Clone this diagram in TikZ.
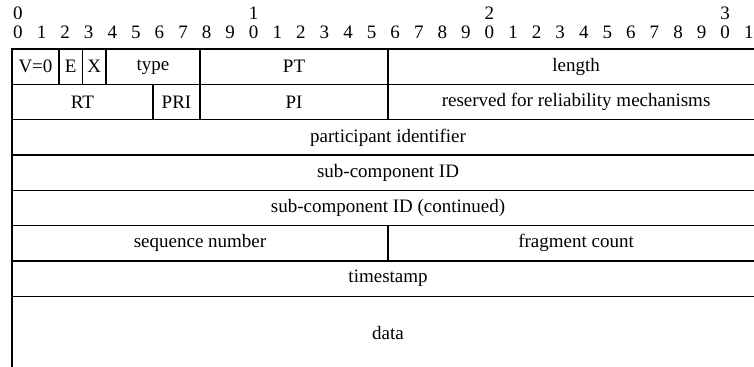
\documentclass[tikz,border=0pt]{standalone}
\usepackage{fontspec}
\setmainfont{Liberation Serif}
\tikzset{
  lbl/.style={font=\fontsize{19}{22}\selectfont, inner sep=0pt},
  digit/.style={lbl, anchor=base},
  rule/.style={line width=1.3pt}
}
\begin{document}
\begin{tikzpicture}[x=23.5pt,y=35.3pt]
\clip (-0.51,-8.98) rectangle (31.57,1.39);
% bit numbers
\foreach \b in {0,...,31} {
  \pgfmathtruncatemacro{\u}{mod(\b,10)}
  \node[digit] (bit\b) at (0.255+1.003*\b,0.3) {\u};
}
\foreach \d in {0,1,2,3}
  \node[digit] (dec\d) at (0.255+10.03*\d,0.84) {\d};
% rows of the header
\draw [rule] (0,-9)--(0,0)--(32,0);
\foreach \r in {1,...,7}
  \draw [rule] (0,-\r)--(32,-\r);
% field borders
\draw [rule] (2,0)--(2,-1);
\draw [rule] (3,0)--(3,-1);
\draw [rule] (4,0)--(4,-1);
\draw [rule] (6,-1)--(6,-2);
\draw [rule] (8,0)--(8,-2);
\draw [rule] (16,0)--(16,-2);
\draw [rule] (16,-5)--(16,-6);
% field names
\node[lbl] (ver) at (1,-0.5) {V=0};
\node[lbl] (ext) at (2.5,-0.5) {E};
\node[lbl] (xbit) at (3.5,-0.5) {X};
\node[lbl] (type) at (6,-0.5) {type};
\node[lbl] (pt) at (12,-0.5) {PT};
\node[lbl] (len) at (24,-0.5) {length};
\node[lbl] (rt) at (3,-1.5) {RT};
\node[lbl] (pri) at (7,-1.5) {PRI};
\node[lbl] (pi) at (12,-1.5) {PI};
\node[lbl] (rsv) at (24,-1.5) {reserved for reliability mechanisms};
\node[lbl] (part) at (16,-2.5) {participant identifier};
\node[lbl] (sub) at (16,-3.5) {sub-component ID};
\node[lbl] (subc) at (16,-4.5) {sub-component ID (continued)};
\node[lbl] (seq) at (8,-5.5) {sequence number};
\node[lbl] (frag) at (24,-5.5) {fragment count};
\node[lbl] (ts) at (16,-6.5) {timestamp};
\node[lbl] (data) at (16,-8.05) {data};
\end{tikzpicture}
\end{document}
